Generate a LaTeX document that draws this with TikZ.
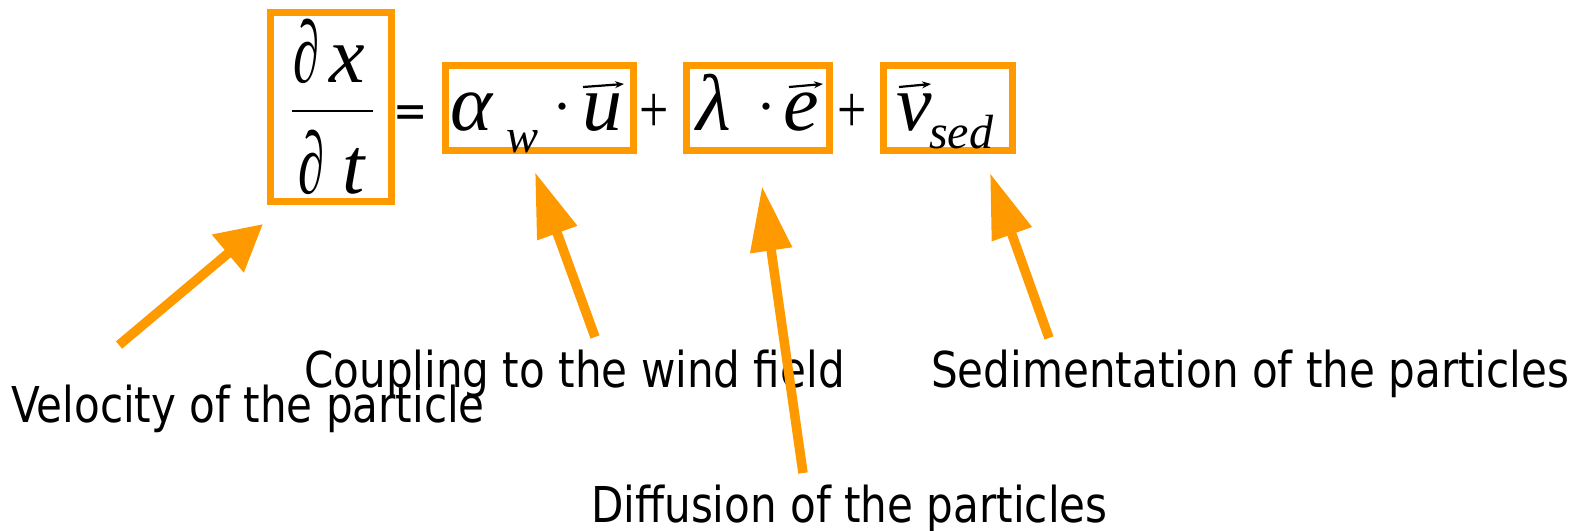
\documentclass[tikz,border=0pt]{standalone}
\usepackage{fontspec}
\usepackage{graphicx}
\usetikzlibrary{arrows.meta}
\newfontfamily\labfont[FakeStretch=0.852]{DejaVu Sans}
\newfontfamily\mfont{Liberation Serif}
\definecolor{orng}{RGB}{255,153,0}
\newcommand{\mypartial}{\scalebox{0.66}[1.1]{∂}}
\newcommand{\myplus}{\scalebox{1}[1.3]{+}}
\begin{document}
\begin{tikzpicture}[x=1pt,y=-1pt,
  obox/.style={draw=orng, line width=7pt, inner sep=0pt, rectangle},
  lab/.style={anchor=base west, inner sep=0pt, font=\labfont\fontsize{49.4}{55}\selectfont},
  mbig/.style={anchor=base west, inner sep=0pt, font=\mfont\itshape\fontsize{80}{90}\selectfont},
  mup/.style={anchor=base west, inner sep=0pt, font=\mfont\fontsize{80}{90}\selectfont},
  msub/.style={anchor=base west, inner sep=0pt, font=\mfont\itshape\fontsize{48}{55}\selectfont},
  mdot/.style={anchor=base west, inner sep=0pt, font=\mfont\fontsize{60}{66}\selectfont},
  mplus/.style={anchor=base west, inner sep=0pt, font=\mfont\fontsize{52}{60}\selectfont},
  meq/.style={anchor=base west, inner sep=0pt, font=\labfont\fontsize{48}{55}\selectfont},
  vecarr/.style={line width=2.2pt, -{Stealth[length=9pt,width=7pt]}},
  bigarrA/.style={draw=orng, line width=9.5pt, -{Triangle[length=46pt,width=47pt]}, orng},
  bigarrB/.style={draw=orng, line width=9.5pt, -{Triangle[length=65pt,width=40pt]}, orng}
]
\useasboundingbox (0,0) rectangle (1578,530);
\fill[white] (0,0) rectangle (1578,530);

% boxes
\node[obox, minimum width=121pt, minimum height=189pt] (b1) at (331,107) {};
\node[obox, minimum width=188pt, minimum height=85pt] (b2) at (539.5,108) {};
\node[obox, minimum width=143pt, minimum height=85pt] (b3) at (758,108) {};
\node[obox, minimum width=129pt, minimum height=85pt] (b4) at (948,108) {};

% fraction
\node[mup] (pn) at (293,82) {\mypartial};
\node[mbig] (xn) at (329,82) {x};
\coordinate (fbl) at (292,111);
\coordinate (fbr) at (373,111);
\draw[line width=2.8pt] (fbl) -- (fbr);
\node[mup] (pd) at (298,193) {\mypartial};
\node[mbig] (td) at (342,193) {t};
\node[meq] (eq) at (393,127) {=};

% term 1
\node[mbig] (alpha) at (450,130) {α};
\node[msub] (w) at (506,152) {w};
\node[mdot] (d1) at (552,126) {·};
\node[mbig] (u) at (582,130) {u};
\coordinate (ua) at (583,87);
\coordinate (ub) at (624,84);
\draw[vecarr] (ua) -- (ub);
\node[mplus] (p1) at (639,132) {\myplus};

% term 2
\node[mbig] (lam) at (696,130) {λ};
\node[mdot] (d2) at (756,126) {·};
\node[mbig] (e) at (783,130) {e};
\coordinate (ea) at (789,87);
\coordinate (eb) at (823,84);
\draw[vecarr] (ea) -- (eb);
\node[mplus] (p2) at (837,132) {\myplus};

% term 3
\node[mbig] (v) at (896,130) {v};
\coordinate (va) at (899,87);
\coordinate (vb) at (931,84);
\draw[vecarr] (va) -- (vb);
\node[msub] (sed) at (929,148) {sed};

% labels
\node[lab] (l1) at (11,422) {Velocity of the particle};
\node[lab] (l2) at (304,387) {Coupling to the wind field};
\node[lab] (l3) at (931,387) {Sedimentation of the particles};
\node[lab] (l4) at (591,522) {Diffusion of the particles};

% arrows
\coordinate (t1) at (119,345); \coordinate (h1) at (263,224);
\coordinate (t2) at (595,337); \coordinate (h2) at (535,172);
\coordinate (t3) at (803,473); \coordinate (h3) at (762,186);
\coordinate (t4) at (1049,338); \coordinate (h4) at (990,173);
\draw[bigarrA] (t1) -- (h1);
\draw[bigarrB] (t2) -- (h2);
\draw[bigarrB] (t3) -- (h3);
\draw[bigarrB] (t4) -- (h4);
\end{tikzpicture}
\end{document}
